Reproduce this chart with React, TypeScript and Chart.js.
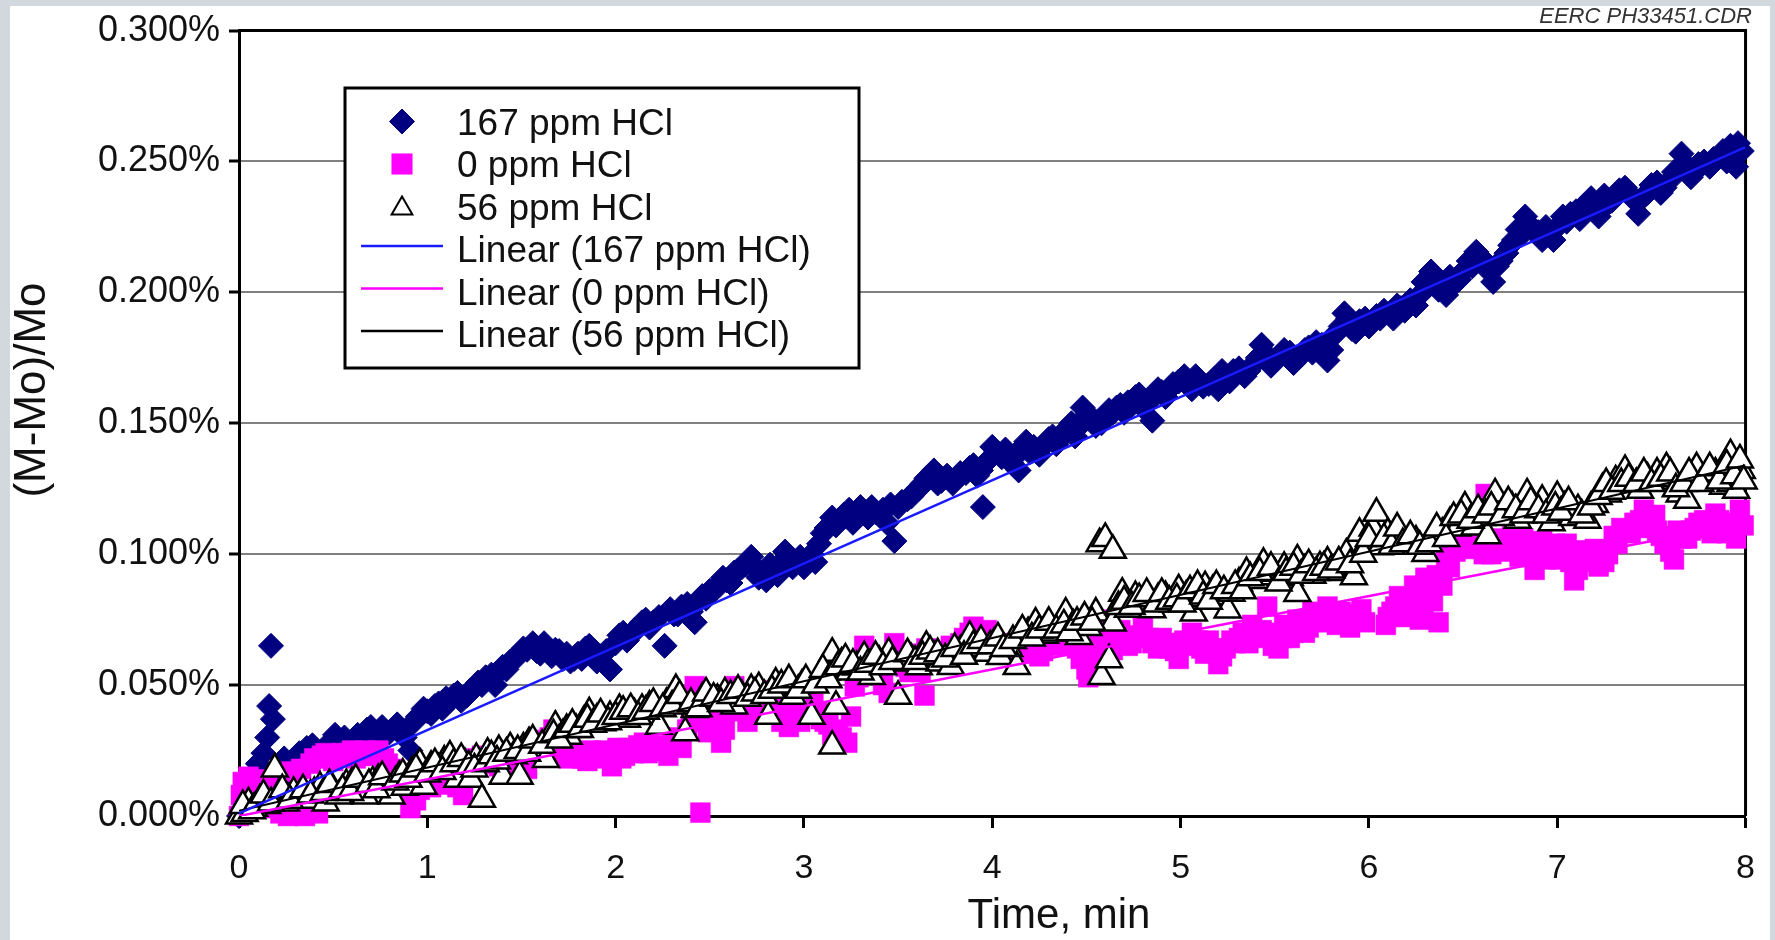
import React, { useEffect, useRef } from 'react';
import { Chart, registerables } from 'chart.js';
import { drawPoint } from 'chart.js/helpers';

Chart.register(...registerables);

const FONT = '"Liberation Sans", Arial, Helvetica, sans-serif';

// ---- text ----
const xTitle = 'Time, min';
const yTitle = '(M-Mo)/Mo';
const creditText = 'EERC PH33451.CDR';
const seriesLabels = ['167 ppm HCl', '0 ppm HCl', '56 ppm HCl'];
const trendLabels = ['Linear (167 ppm HCl)', 'Linear (0 ppm HCl)', 'Linear (56 ppm HCl)'];

// ---- ticks ----
const xTickValues = [0, 1, 2, 3, 4, 5, 6, 7, 8];
const xTickLabels = ['0', '1', '2', '3', '4', '5', '6', '7', '8'];
const yTickValues = [0, 0.05, 0.1, 0.15, 0.2, 0.25, 0.3];
const yTickLabels = ['0.000%', '0.050%', '0.100%', '0.150%', '0.200%', '0.250%', '0.300%'];

// ---- data: [time (min), (M-Mo)/Mo (%)] ----
const points167: [number, number][] = [
  [0.00, 0.000], [0.04, 0.004], [0.08, 0.010], [0.10, 0.020], [0.13, 0.024], [0.15, 0.030],
  [0.16, 0.042], [0.17, 0.065], [0.18, 0.037], [0.20, 0.018], [0.23, 0.014], [0.27, 0.020],
  [0.32, 0.024], [0.36, 0.026], [0.42, 0.022], [0.48, 0.028], [0.53, 0.029], [0.58, 0.026],
  [0.63, 0.031], [0.68, 0.033], [0.72, 0.030], [0.76, 0.034], [0.80, 0.032], [0.84, 0.035],
  [0.88, 0.030], [0.91, 0.025], [0.95, 0.038], [0.98, 0.041], [1.02, 0.039], [1.06, 0.043],
  [1.10, 0.045], [1.14, 0.046], [1.18, 0.044], [1.23, 0.048], [1.27, 0.051], [1.31, 0.053],
  [1.36, 0.050], [1.40, 0.057], [1.44, 0.059], [1.48, 0.061], [1.53, 0.0635], [1.56, 0.066],
  [1.60, 0.062], [1.64, 0.064], [1.68, 0.0635], [1.72, 0.060], [1.76, 0.059], [1.80, 0.062],
  [1.84, 0.064], [1.88, 0.062], [1.92, 0.061], [1.97, 0.056], [2.02, 0.069], [2.06, 0.067],
  [2.10, 0.071], [2.14, 0.074], [2.18, 0.072], [2.23, 0.076], [2.26, 0.065], [2.29, 0.079],
  [2.33, 0.077], [2.38, 0.081], [2.42, 0.074], [2.46, 0.084], [2.50, 0.086], [2.55, 0.088],
  [2.59, 0.090], [2.63, 0.093], [2.67, 0.095], [2.72, 0.099], [2.76, 0.091], [2.80, 0.090],
  [2.84, 0.094], [2.88, 0.097], [2.92, 0.099], [2.96, 0.097], [3.00, 0.095], [3.04, 0.100],
  [3.06, 0.097], [3.10, 0.108], [3.15, 0.114], [3.19, 0.113], [3.24, 0.117], [3.28, 0.114],
  [3.32, 0.116], [3.36, 0.118], [3.40, 0.115], [3.44, 0.112], [3.48, 0.105], [3.52, 0.120],
  [3.57, 0.122], [3.61, 0.125], [3.65, 0.129], [3.69, 0.132], [3.73, 0.128], [3.79, 0.127],
  [3.83, 0.131], [3.88, 0.133], [3.92, 0.130], [3.95, 0.118], [3.98, 0.136], [4.00, 0.141],
  [4.05, 0.137], [4.10, 0.135], [4.14, 0.132], [4.18, 0.143], [4.22, 0.141], [4.25, 0.138],
  [4.30, 0.144], [4.34, 0.142], [4.37, 0.146], [4.42, 0.150], [4.45, 0.148], [4.48, 0.156],
  [4.53, 0.152], [4.58, 0.150], [4.62, 0.155], [4.64, 0.154], [4.68, 0.157], [4.72, 0.158],
  [4.76, 0.160], [4.80, 0.156], [4.85, 0.151], [4.88, 0.163], [4.92, 0.160], [4.96, 0.165],
  [5.02, 0.168], [5.06, 0.163], [5.10, 0.166], [5.15, 0.165], [5.20, 0.163], [5.24, 0.167],
  [5.28, 0.170], [5.34, 0.168], [5.38, 0.172], [5.43, 0.180], [5.46, 0.176], [5.50, 0.174],
  [5.55, 0.178], [5.60, 0.173], [5.64, 0.176], [5.68, 0.179], [5.72, 0.181], [5.78, 0.174],
  [5.82, 0.184], [5.87, 0.192], [5.91, 0.186], [5.95, 0.189], [6.00, 0.187], [6.04, 0.191],
  [6.08, 0.193], [6.13, 0.190], [6.17, 0.194], [6.22, 0.197], [6.25, 0.195], [6.29, 0.204],
  [6.33, 0.208], [6.37, 0.201], [6.41, 0.199], [6.45, 0.203], [6.50, 0.208], [6.53, 0.212],
  [6.57, 0.2155], [6.62, 0.210], [6.66, 0.204], [6.70, 0.212], [6.75, 0.218], [6.79, 0.224],
  [6.83, 0.229], [6.87, 0.224], [6.92, 0.220], [6.96, 0.222], [7.00, 0.225], [7.05, 0.227],
  [7.10, 0.231], [7.14, 0.233], [7.18, 0.236], [7.22, 0.229], [7.27, 0.234], [7.31, 0.237],
  [7.36, 0.240], [7.40, 0.236], [7.43, 0.230], [7.48, 0.238], [7.53, 0.242], [7.57, 0.240],
  [7.62, 0.246], [7.66, 0.253], [7.71, 0.244], [7.75, 0.249], [7.81, 0.248], [7.86, 0.252],
  [7.92, 0.256], [7.95, 0.248], [7.98, 0.254],
  [0.06, 0.012], [0.11, 0.016], [0.24, 0.022], [0.30, 0.018], [0.39, 0.027], [0.45, 0.025],
  [0.51, 0.031], [0.56, 0.030], [0.61, 0.028], [0.66, 0.030], [0.70, 0.034], [0.78, 0.031],
  [0.86, 0.033], [0.93, 0.036], [1.00, 0.040], [1.04, 0.042], [1.08, 0.041], [1.12, 0.044],
  [1.16, 0.047], [1.21, 0.046], [1.25, 0.049], [1.29, 0.050], [1.34, 0.054], [1.38, 0.055],
  [1.42, 0.056], [1.46, 0.060], [1.51, 0.064], [1.58, 0.063], [1.62, 0.066], [1.66, 0.061],
  [1.70, 0.063], [1.74, 0.062], [1.78, 0.060], [1.82, 0.060], [1.86, 0.065], [1.90, 0.059],
  [1.95, 0.063], [2.00, 0.066], [2.04, 0.070], [2.08, 0.069], [2.12, 0.072], [2.16, 0.075],
  [2.20, 0.074], [2.31, 0.077], [2.35, 0.080], [2.40, 0.078], [2.44, 0.082], [2.48, 0.083],
  [2.53, 0.087], [2.57, 0.091], [2.61, 0.089], [2.65, 0.094], [2.69, 0.096], [2.74, 0.095],
  [2.78, 0.093], [2.82, 0.096], [2.86, 0.092], [2.90, 0.101], [2.94, 0.095], [2.98, 0.099],
  [3.02, 0.098], [3.08, 0.104], [3.12, 0.110], [3.17, 0.111], [3.21, 0.115], [3.26, 0.112],
  [3.30, 0.118], [3.34, 0.114], [3.38, 0.116], [3.42, 0.117], [3.46, 0.119], [3.50, 0.118],
  [3.55, 0.121], [3.59, 0.124], [3.63, 0.127], [3.67, 0.130], [3.71, 0.127], [3.76, 0.130],
  [3.81, 0.129], [3.86, 0.131], [3.90, 0.134], [3.94, 0.132], [4.02, 0.139], [4.07, 0.140],
  [4.12, 0.138], [4.16, 0.140], [4.20, 0.139], [4.28, 0.142], [4.32, 0.145], [4.40, 0.147],
  [4.44, 0.145], [4.50, 0.153], [4.55, 0.149], [4.60, 0.152], [4.66, 0.156], [4.70, 0.154],
  [4.74, 0.157], [4.78, 0.161], [4.83, 0.158], [4.90, 0.162], [4.94, 0.163], [4.99, 0.166],
  [5.04, 0.165], [5.08, 0.168], [5.12, 0.164], [5.18, 0.167], [5.22, 0.170], [5.26, 0.166],
  [5.31, 0.171], [5.36, 0.170], [5.41, 0.175], [5.48, 0.172], [5.53, 0.176], [5.58, 0.177],
  [5.62, 0.175], [5.66, 0.178], [5.70, 0.177], [5.75, 0.180], [5.80, 0.178], [5.85, 0.187],
  [5.89, 0.190], [5.93, 0.185], [5.98, 0.190], [6.02, 0.189], [6.06, 0.190], [6.11, 0.192],
  [6.15, 0.195], [6.19, 0.193], [6.27, 0.199], [6.31, 0.202], [6.35, 0.205], [6.39, 0.203],
  [6.43, 0.206], [6.48, 0.205], [6.55, 0.210], [6.60, 0.213], [6.64, 0.208], [6.68, 0.210],
  [6.73, 0.215], [6.77, 0.220], [6.81, 0.222], [6.85, 0.226], [6.90, 0.223], [6.94, 0.225],
  [6.98, 0.220], [7.03, 0.229], [7.07, 0.230], [7.12, 0.228], [7.16, 0.232], [7.20, 0.233],
  [7.25, 0.237], [7.29, 0.235], [7.33, 0.239], [7.38, 0.238], [7.45, 0.236], [7.50, 0.241],
  [7.55, 0.238], [7.60, 0.243], [7.64, 0.247], [7.68, 0.249], [7.73, 0.246], [7.78, 0.250],
  [7.83, 0.251], [7.88, 0.254], [7.90, 0.250], [7.96, 0.257],
];

const points0: [number, number][] = [
  [0.00, 0.000], [0.02, 0.013], [0.04, 0.005], [0.05, 0.015], [0.07, 0.010], [0.09, 0.003],
  [0.12, 0.008], [0.15, 0.012], [0.18, 0.004], [0.22, 0.001], [0.26, 0.000], [0.28, 0.017],
  [0.31, 0.002], [0.35, 0.000], [0.38, 0.020], [0.42, 0.001], [0.44, 0.023], [0.50, 0.021],
  [0.55, 0.024], [0.58, 0.024], [0.62, 0.022], [0.67, 0.025], [0.71, 0.023], [0.74, 0.025],
  [0.79, 0.020], [0.83, 0.016], [0.88, 0.010], [0.91, 0.003], [0.94, 0.006], [0.98, 0.013],
  [1.02, 0.011], [1.05, 0.013], [1.09, 0.016], [1.13, 0.014], [1.19, 0.008], [1.22, 0.018],
  [1.26, 0.022], [1.31, 0.020], [1.36, 0.021], [1.40, 0.023], [1.45, 0.025], [1.49, 0.020],
  [1.53, 0.018], [1.58, 0.026], [1.62, 0.029], [1.67, 0.033], [1.71, 0.025], [1.75, 0.022],
  [1.80, 0.024], [1.85, 0.021], [1.89, 0.023], [1.94, 0.025], [1.98, 0.019], [2.03, 0.022],
  [2.07, 0.026], [2.10, 0.024], [2.15, 0.028], [2.19, 0.025], [2.24, 0.027], [2.28, 0.023],
  [2.33, 0.028], [2.38, 0.033], [2.42, 0.0496], [2.45, 0.0013], [2.49, 0.032], [2.53, 0.037],
  [2.56, 0.028], [2.60, 0.040], [2.63, 0.0496], [2.67, 0.044], [2.70, 0.036], [2.74, 0.041],
  [2.78, 0.048], [2.82, 0.045], [2.86, 0.040], [2.92, 0.034], [2.96, 0.038], [3.00, 0.039],
  [3.05, 0.043], [3.09, 0.037], [3.13, 0.035], [3.18, 0.033], [3.23, 0.028], [3.27, 0.0495],
  [3.30, 0.056], [3.32, 0.065], [3.36, 0.060], [3.40, 0.055], [3.45, 0.047], [3.48, 0.066],
  [3.52, 0.058], [3.56, 0.055], [3.60, 0.062], [3.64, 0.046], [3.65, 0.064], [3.70, 0.060],
  [3.76, 0.058], [3.80, 0.063], [3.85, 0.068], [3.90, 0.0723], [3.93, 0.065], [3.97, 0.071],
  [4.02, 0.066], [4.07, 0.062], [4.11, 0.064], [4.16, 0.068], [4.21, 0.063], [4.25, 0.061],
  [4.29, 0.066], [4.32, 0.065], [4.37, 0.069], [4.43, 0.067], [4.47, 0.060], [4.50, 0.056],
  [4.51, 0.053], [4.55, 0.064], [4.59, 0.070], [4.62, 0.075], [4.64, 0.0634], [4.68, 0.071],
  [4.72, 0.065], [4.76, 0.069], [4.80, 0.072], [4.85, 0.066], [4.90, 0.068], [4.94, 0.064],
  [4.99, 0.060], [5.02, 0.067], [5.06, 0.070], [5.11, 0.064], [5.15, 0.067], [5.20, 0.058],
  [5.24, 0.064], [5.29, 0.066], [5.33, 0.070], [5.38, 0.073], [5.43, 0.071], [5.46, 0.080],
  [5.49, 0.065], [5.52, 0.064], [5.55, 0.073], [5.58, 0.068], [5.62, 0.075], [5.66, 0.070],
  [5.70, 0.078], [5.74, 0.074], [5.78, 0.080], [5.83, 0.073], [5.87, 0.076], [5.92, 0.075],
  [5.96, 0.079], [6.09, 0.073], [6.12, 0.078], [6.16, 0.084], [6.20, 0.076], [6.24, 0.088],
  [6.27, 0.075], [6.30, 0.091], [6.34, 0.082], [6.37, 0.074], [6.41, 0.097], [6.44, 0.104],
  [6.47, 0.113], [6.51, 0.109], [6.55, 0.104], [6.59, 0.108], [6.62, 0.123], [6.65, 0.100],
  [6.70, 0.103], [6.76, 0.108], [6.80, 0.099], [6.84, 0.103], [6.88, 0.094], [6.92, 0.105],
  [6.96, 0.101], [7.01, 0.098], [7.05, 0.104], [7.09, 0.090], [7.13, 0.1015], [7.18, 0.097],
  [7.22, 0.0953], [7.27, 0.100], [7.32, 0.104], [7.36, 0.109], [7.41, 0.112], [7.46, 0.117],
  [7.50, 0.113], [7.53, 0.109], [7.57, 0.104], [7.62, 0.098], [7.66, 0.106], [7.71, 0.109],
  [7.75, 0.112], [7.80, 0.110], [7.84, 0.1155], [7.88, 0.112], [7.93, 0.110], [7.95, 0.106],
  [7.97, 0.117],
  [0.01, 0.008], [0.03, 0.002], [0.06, 0.012], [0.10, 0.014], [0.13, 0.003], [0.16, 0.010],
  [0.20, 0.006], [0.24, 0.003], [0.29, 0.001], [0.33, 0.018], [0.37, 0.003], [0.40, 0.022],
  [0.46, 0.024], [0.52, 0.023], [0.60, 0.025], [0.65, 0.023], [0.69, 0.024], [0.77, 0.022],
  [0.81, 0.018], [0.86, 0.012], [0.96, 0.010], [1.00, 0.015], [1.07, 0.012], [1.11, 0.017],
  [1.16, 0.011], [1.24, 0.020], [1.29, 0.023], [1.33, 0.022], [1.38, 0.019], [1.43, 0.022],
  [1.47, 0.024], [1.51, 0.021], [1.56, 0.023], [1.60, 0.027], [1.65, 0.030], [1.69, 0.028],
  [1.73, 0.024], [1.78, 0.023], [1.82, 0.022], [1.87, 0.025], [1.92, 0.022], [1.96, 0.024],
  [2.01, 0.026], [2.05, 0.023], [2.12, 0.027], [2.17, 0.024], [2.22, 0.026], [2.26, 0.025],
  [2.30, 0.030], [2.35, 0.026], [2.40, 0.036], [2.47, 0.038], [2.51, 0.034], [2.58, 0.033],
  [2.62, 0.044], [2.65, 0.042], [2.69, 0.045], [2.72, 0.039], [2.76, 0.044], [2.80, 0.047],
  [2.84, 0.042], [2.88, 0.036], [2.94, 0.040], [2.98, 0.036], [3.02, 0.041], [3.07, 0.040],
  [3.11, 0.036], [3.15, 0.031], [3.20, 0.030], [3.25, 0.038], [3.29, 0.053], [3.34, 0.062],
  [3.38, 0.058], [3.42, 0.050], [3.46, 0.060], [3.50, 0.062], [3.54, 0.057], [3.58, 0.060],
  [3.62, 0.055], [3.68, 0.062], [3.73, 0.061], [3.78, 0.065], [3.83, 0.066], [3.88, 0.070],
  [3.95, 0.068], [4.00, 0.063], [4.05, 0.065], [4.09, 0.066], [4.14, 0.062], [4.19, 0.066],
  [4.23, 0.065], [4.27, 0.063], [4.35, 0.067], [4.40, 0.065], [4.45, 0.064], [4.53, 0.058],
  [4.57, 0.066], [4.66, 0.070], [4.70, 0.067], [4.74, 0.066], [4.78, 0.068], [4.83, 0.068],
  [4.88, 0.064], [4.92, 0.066], [4.97, 0.063], [5.04, 0.065], [5.09, 0.067], [5.13, 0.062],
  [5.18, 0.064], [5.22, 0.061], [5.27, 0.067], [5.31, 0.068], [5.36, 0.066], [5.41, 0.068],
  [5.50, 0.070], [5.54, 0.068], [5.60, 0.070], [5.64, 0.073], [5.68, 0.072], [5.72, 0.076],
  [5.76, 0.077], [5.81, 0.075], [5.85, 0.078], [5.90, 0.072], [5.94, 0.077], [5.98, 0.074],
  [6.10, 0.076], [6.14, 0.080], [6.18, 0.082], [6.22, 0.079], [6.26, 0.085], [6.29, 0.078],
  [6.32, 0.086], [6.36, 0.092], [6.39, 0.088], [6.43, 0.095], [6.46, 0.101], [6.49, 0.106],
  [6.53, 0.102], [6.57, 0.106], [6.61, 0.100], [6.68, 0.106], [6.72, 0.101], [6.78, 0.104],
  [6.82, 0.106], [6.86, 0.099], [6.90, 0.102], [6.94, 0.098], [6.99, 0.104], [7.03, 0.101],
  [7.07, 0.097], [7.11, 0.094], [7.16, 0.100], [7.20, 0.102], [7.25, 0.097], [7.30, 0.107],
  [7.34, 0.110], [7.39, 0.108], [7.44, 0.113], [7.48, 0.110], [7.52, 0.115], [7.55, 0.107],
  [7.60, 0.101], [7.64, 0.109], [7.69, 0.106], [7.73, 0.110], [7.78, 0.113], [7.82, 0.108],
  [7.86, 0.113], [7.90, 0.108], [7.99, 0.111],
];

const points56: [number, number][] = [
  [0.00, 0.000], [0.03, 0.001], [0.05, 0.005], [0.08, 0.003], [0.11, 0.006], [0.15, 0.004],
  [0.19, 0.018], [0.21, 0.008], [0.25, 0.005], [0.29, 0.009], [0.32, 0.0076], [0.36, 0.006],
  [0.40, 0.009], [0.43, 0.011], [0.46, 0.005], [0.50, 0.010], [0.53, 0.0076], [0.57, 0.012],
  [0.60, 0.0127], [0.64, 0.010], [0.67, 0.0076], [0.71, 0.013], [0.74, 0.014], [0.78, 0.012],
  [0.81, 0.0076], [0.85, 0.015], [0.88, 0.011], [0.92, 0.017], [0.96, 0.020], [0.98, 0.0114],
  [1.02, 0.019], [1.06, 0.018], [1.09, 0.021], [1.12, 0.0229], [1.16, 0.014], [1.20, 0.020],
  [1.23, 0.014], [1.26, 0.022], [1.29, 0.0064], [1.32, 0.024], [1.35, 0.0216], [1.38, 0.025],
  [1.40, 0.0152], [1.44, 0.026], [1.46, 0.023], [1.49, 0.0152], [1.51, 0.026], [1.54, 0.028],
  [1.58, 0.025], [1.63, 0.0216], [1.65, 0.030], [1.68, 0.0343], [1.72, 0.031], [1.75, 0.0305],
  [1.79, 0.033], [1.83, 0.036], [1.86, 0.0394], [1.90, 0.037], [1.93, 0.0356], [1.97, 0.038],
  [2.02, 0.0407], [2.06, 0.037], [2.10, 0.039], [2.14, 0.0407], [2.18, 0.042], [2.23, 0.0343],
  [2.27, 0.043], [2.32, 0.0483], [2.35, 0.044], [2.37, 0.0318], [2.42, 0.0407], [2.46, 0.045],
  [2.50, 0.043], [2.54, 0.0445], [2.58, 0.047], [2.63, 0.042], [2.67, 0.046], [2.72, 0.0483],
  [2.76, 0.049], [2.81, 0.0381], [2.85, 0.0508], [2.90, 0.048], [2.94, 0.0457], [2.99, 0.050],
  [3.04, 0.0381], [3.08, 0.053], [3.12, 0.055], [3.15, 0.0622], [3.15, 0.0267], [3.17, 0.0419],
  [3.20, 0.0584], [3.24, 0.055], [3.28, 0.057], [3.32, 0.0609], [3.36, 0.0533], [3.40, 0.059],
  [3.45, 0.0622], [3.50, 0.0457], [3.53, 0.0584], [3.57, 0.060], [3.61, 0.057], [3.65, 0.0648],
  [3.69, 0.061], [3.72, 0.0584], [3.78, 0.0571], [3.83, 0.063], [3.88, 0.0686], [3.92, 0.064],
  [3.97, 0.0622], [4.01, 0.066], [4.04, 0.0609], [4.09, 0.064], [4.13, 0.0571], [4.14, 0.0686],
  [4.19, 0.070], [4.23, 0.0737], [4.28, 0.069], [4.32, 0.0699], [4.36, 0.072], [4.39, 0.0775],
  [4.43, 0.073], [4.46, 0.0686], [4.51, 0.072], [4.55, 0.0775], [4.57, 0.104], [4.58, 0.0533],
  [4.60, 0.106], [4.62, 0.0597], [4.64, 0.1015], [4.64, 0.0737], [4.69, 0.0851], [4.72, 0.079],
  [4.76, 0.0838], [4.80, 0.081], [4.85, 0.0788], [4.88, 0.083], [4.92, 0.0838], [4.96, 0.081],
  [4.99, 0.0864], [5.03, 0.084], [5.07, 0.0775], [5.10, 0.083], [5.13, 0.0876], [5.17, 0.086],
  [5.20, 0.0838], [5.25, 0.0787], [5.27, 0.0851], [5.31, 0.089], [5.35, 0.093], [5.40, 0.090],
  [5.44, 0.0965], [5.46, 0.0914], [5.50, 0.0927], [5.55, 0.095], [5.58, 0.091], [5.62, 0.0978],
  [5.62, 0.085], [5.66, 0.094], [5.70, 0.092], [5.74, 0.0952], [5.78, 0.097], [5.82, 0.093],
  [5.85, 0.0952], [5.88, 0.100], [5.92, 0.0914], [5.95, 0.108], [5.99, 0.104], [6.02, 0.110],
  [6.04, 0.1156], [6.06, 0.1028], [6.10, 0.108], [6.13, 0.104], [6.16, 0.1066], [6.20, 0.103],
  [6.25, 0.105], [6.30, 0.1003], [6.34, 0.106], [6.39, 0.108], [6.43, 0.112], [6.47, 0.110],
  [6.51, 0.118], [6.56, 0.1104], [6.60, 0.114], [6.63, 0.107], [6.67, 0.123], [6.72, 0.1155],
  [6.76, 0.118], [6.79, 0.113], [6.84, 0.123], [6.88, 0.117], [6.92, 0.1206], [6.97, 0.112],
  [7.00, 0.122], [7.04, 0.118], [7.08, 0.114], [7.11, 0.117], [7.16, 0.113], [7.20, 0.119],
  [7.24, 0.125], [7.27, 0.123], [7.31, 0.128], [7.36, 0.132], [7.40, 0.127], [7.44, 0.1244],
  [7.48, 0.129], [7.53, 0.131], [7.58, 0.133], [7.62, 0.128], [7.65, 0.123], [7.69, 0.1206],
  [7.72, 0.128], [7.74, 0.133], [7.79, 0.129], [7.84, 0.131], [7.88, 0.126], [7.92, 0.138],
  [7.92, 0.127], [7.95, 0.1244], [7.98, 0.132],
  [0.02, 0.004], [0.07, 0.002], [0.13, 0.008], [0.17, 0.005], [0.23, 0.010], [0.27, 0.006],
  [0.34, 0.010], [0.38, 0.008], [0.45, 0.009], [0.48, 0.012], [0.55, 0.010], [0.59, 0.009],
  [0.62, 0.014], [0.69, 0.012], [0.73, 0.010], [0.76, 0.015], [0.83, 0.013], [0.87, 0.016],
  [0.90, 0.014], [0.94, 0.018], [1.00, 0.016], [1.04, 0.020], [1.08, 0.017], [1.14, 0.020],
  [1.18, 0.022], [1.22, 0.019], [1.25, 0.018], [1.31, 0.020], [1.34, 0.023], [1.37, 0.021],
  [1.42, 0.024], [1.48, 0.025], [1.53, 0.024], [1.56, 0.029], [1.61, 0.027], [1.67, 0.031],
  [1.70, 0.029], [1.74, 0.033], [1.77, 0.035], [1.81, 0.033], [1.85, 0.037], [1.88, 0.035],
  [1.92, 0.039], [1.96, 0.036], [2.00, 0.038], [2.04, 0.040], [2.08, 0.041], [2.12, 0.038],
  [2.16, 0.040], [2.20, 0.043], [2.25, 0.041], [2.30, 0.042], [2.34, 0.046], [2.40, 0.043],
  [2.44, 0.041], [2.48, 0.047], [2.52, 0.045], [2.56, 0.043], [2.61, 0.046], [2.65, 0.048],
  [2.70, 0.045], [2.74, 0.047], [2.79, 0.046], [2.83, 0.048], [2.88, 0.050], [2.92, 0.052],
  [2.97, 0.048], [3.01, 0.052], [3.06, 0.050], [3.10, 0.056], [3.13, 0.052], [3.18, 0.057],
  [3.22, 0.060], [3.26, 0.058], [3.30, 0.055], [3.34, 0.058], [3.38, 0.061], [3.42, 0.057],
  [3.47, 0.059], [3.55, 0.062], [3.59, 0.059], [3.63, 0.061], [3.67, 0.063], [3.71, 0.062],
  [3.75, 0.060], [3.80, 0.064], [3.85, 0.061], [3.90, 0.065], [3.94, 0.067], [3.99, 0.065],
  [4.03, 0.068], [4.06, 0.064], [4.11, 0.067], [4.16, 0.071], [4.21, 0.068], [4.25, 0.071],
  [4.30, 0.074], [4.34, 0.071], [4.38, 0.073], [4.41, 0.070], [4.45, 0.074], [4.49, 0.076],
  [4.53, 0.074], [4.67, 0.080], [4.70, 0.082], [4.74, 0.080], [4.78, 0.083], [4.82, 0.085],
  [4.87, 0.081], [4.90, 0.085], [4.94, 0.082], [4.98, 0.083], [5.01, 0.081], [5.05, 0.086],
  [5.09, 0.088], [5.12, 0.084], [5.15, 0.082], [5.19, 0.088], [5.23, 0.086], [5.29, 0.088],
  [5.33, 0.086], [5.37, 0.091], [5.42, 0.093], [5.48, 0.095], [5.52, 0.089], [5.56, 0.093],
  [5.60, 0.095], [5.64, 0.092], [5.68, 0.096], [5.72, 0.093], [5.76, 0.095], [5.80, 0.094],
  [5.84, 0.097], [5.90, 0.096], [5.97, 0.100], [6.00, 0.106], [6.08, 0.106], [6.12, 0.103],
  [6.15, 0.110], [6.18, 0.104], [6.22, 0.107], [6.27, 0.103], [6.32, 0.104], [6.36, 0.110],
  [6.41, 0.106], [6.45, 0.114], [6.49, 0.115], [6.54, 0.113], [6.58, 0.117], [6.62, 0.115],
  [6.65, 0.118], [6.70, 0.114], [6.74, 0.120], [6.78, 0.117], [6.82, 0.115], [6.86, 0.120],
  [6.90, 0.117], [6.94, 0.115], [6.99, 0.118], [7.02, 0.116], [7.06, 0.120], [7.13, 0.115],
  [7.18, 0.118], [7.22, 0.122], [7.26, 0.127], [7.29, 0.124], [7.34, 0.127], [7.38, 0.129],
  [7.42, 0.127], [7.46, 0.131], [7.50, 0.127], [7.55, 0.129], [7.60, 0.131], [7.63, 0.125],
  [7.67, 0.127], [7.70, 0.131], [7.76, 0.127], [7.81, 0.133], [7.86, 0.128], [7.90, 0.134],
  [7.94, 0.130], [7.97, 0.136], [7.99, 0.128],
];

// linear trend lines: end points at t = 0 and t = 8
const trendTimes = [0, 8];
const trend167 = [0.001, 0.2555];
const trend0 = [0.0, 0.112];
const trend56 = [0.002, 0.134];

// ---- colours ----
const NAVY = '#000080';
const MAGENTA = '#ff00ff';
const TREND_BLUE = '#1a1aff';

const toXY = (pts: [number, number][]) => pts.map(([x, y]) => ({ x, y }));
const trendXY = (vals: number[]) => trendTimes.map((x, i) => ({ x, y: vals[i] }));

const markerStyles = [
  { pointStyle: 'rectRot', radius: 12.5, fill: NAVY, stroke: NAVY, lw: 1 },
  { pointStyle: 'rect', radius: 14, fill: MAGENTA, stroke: MAGENTA, lw: 0.5 },
  { pointStyle: 'triangle', radius: 15, fill: '#ffffff', stroke: '#000000', lw: 2.5 },
];
const trendStyles = [
  { color: TREND_BLUE, lw: 2.5 },
  { color: MAGENTA, lw: 2.5 },
  { color: '#000000', lw: 2 },
];

const decorPlugin = {
  id: 'decor',
  beforeDatasetsDraw(chart: any) {
    const { ctx, chartArea: a } = chart;
    ctx.save();
    ctx.strokeStyle = '#000';
    ctx.lineWidth = 3;
    ctx.beginPath();
    ctx.moveTo(a.left, a.top);
    ctx.lineTo(a.right, a.top);
    ctx.lineTo(a.right, a.bottom);
    ctx.stroke();
    ctx.restore();
  },
  afterDraw(chart: any) {
    const { ctx } = chart;
    ctx.save();

    // legend box
    const bx = 345, by = 88, bw = 514, bh = 280;
    ctx.fillStyle = '#ffffff';
    ctx.fillRect(bx, by, bw, bh);
    ctx.strokeStyle = '#000';
    ctx.lineWidth = 3;
    ctx.strokeRect(bx, by, bw, bh);

    const rowY0 = 121.5, rowGap = 42.5, fs = 37;
    ctx.font = `${fs}px ${FONT}`;
    ctx.textAlign = 'left';
    ctx.textBaseline = 'alphabetic';
    const labels = [...seriesLabels, ...trendLabels];
    labels.forEach((lab, i) => {
      const cy = rowY0 + rowGap * i;
      if (i < 3) {
        const m = markerStyles[i];
        ctx.fillStyle = m.fill;
        ctx.strokeStyle = m.stroke;
        ctx.lineWidth = i === 2 ? 2 : m.lw;
        const r = i === 2 ? 12 : i === 1 ? 14.5 : 12.5;
        drawPoint(ctx, { pointStyle: m.pointStyle, radius: r, rotation: 0, borderWidth: m.lw } as any, 402, cy + (i === 2 ? 2 : 0));
      } else {
        const t = trendStyles[i - 3];
        ctx.strokeStyle = t.color;
        ctx.lineWidth = 2.5;
        ctx.beginPath();
        ctx.moveTo(361, cy - 3);
        ctx.lineTo(443, cy - 3);
        ctx.stroke();
      }
      ctx.fillStyle = '#111';
      ctx.fillText(lab, 457, cy + 0.358 * fs);
    });

    // axis titles
    ctx.fillStyle = '#111';
    ctx.font = `42px ${FONT}`;
    ctx.textAlign = 'center';
    ctx.textBaseline = 'alphabetic';
    ctx.fillText(xTitle, 1059, 928);

    ctx.save();
    ctx.translate(33, 390);
    ctx.rotate(-Math.PI / 2);
    ctx.font = `44px ${FONT}`;
    ctx.textBaseline = 'middle';
    ctx.fillText(yTitle, 0, 0);
    ctx.restore();

    // credit
    ctx.font = `italic 22px ${FONT}`;
    ctx.fillStyle = '#333';
    ctx.textAlign = 'right';
    ctx.textBaseline = 'alphabetic';
    ctx.fillText(creditText, 1752, 23);

    ctx.restore();
  },
};

export default function App() {
  const canvasRef = useRef<HTMLCanvasElement | null>(null);

  useEffect(() => {
    const canvas = canvasRef.current;
    if (!canvas) return;

    const scatterSets = [points167, points0, points56].map((pts, i) => {
      const m = markerStyles[i];
      return {
        type: 'scatter' as const,
        label: seriesLabels[i],
        data: toXY(pts),
        pointStyle: m.pointStyle,
        pointRadius: m.radius,
        pointBackgroundColor: m.fill,
        pointBorderColor: m.stroke,
        pointBorderWidth: m.lw,
        showLine: false,
        clip: false as any,
        order: 5 - i,
      };
    });
    const trendSets = [trend167, trend0, trend56].map((vals, i) => ({
      type: 'line' as const,
      label: trendLabels[i],
      data: trendXY(vals),
      borderColor: trendStyles[i].color,
      borderWidth: trendStyles[i].lw,
      pointRadius: 0,
      fill: false,
      tension: 0,
      order: i,
    }));

    const chart = new Chart(canvas, {
      type: 'scatter',
      data: { datasets: [...trendSets, ...scatterSets] as any },
      options: {
        responsive: false,
        animation: false,
        devicePixelRatio: 1,
        events: [],
        layout: { padding: { left: 0, top: 30, right: 17, bottom: 0 } },
        plugins: {
          legend: { display: false },
          tooltip: { enabled: false },
          title: { display: false },
        },
        scales: {
          x: {
            type: 'linear',
            min: 0,
            max: 8,
            afterFit: (s: any) => { s.height = 124; },
            afterBuildTicks: (s: any) => { s.ticks = xTickValues.map((v) => ({ value: v })); },
            ticks: {
              font: { family: FONT, size: 34 },
              color: '#111',
              padding: 20,
              maxRotation: 0,
              autoSkip: false,
              callback: (_v: any, i: number) => xTickLabels[i],
            },
            grid: {
              drawOnChartArea: false,
              drawTicks: true,
              tickLength: 12,
              tickColor: '#000',
              tickWidth: 3,
            },
            border: { display: true, color: '#000', width: 3 },
          },
          y: {
            type: 'linear',
            min: 0,
            max: 0.3,
            afterFit: (s: any) => { s.width = 239; },
            afterBuildTicks: (s: any) => { s.ticks = yTickValues.map((v) => ({ value: v })); },
            ticks: {
              font: { family: FONT, size: 36 },
              color: '#111',
              padding: 9,
              autoSkip: false,
              callback: (_v: any, i: number) => yTickLabels[i],
            },
            grid: {
              color: '#808080',
              lineWidth: 2,
              drawTicks: true,
              tickLength: 10,
              tickColor: '#000',
              tickWidth: 3,
            },
            border: { display: true, color: '#000', width: 3 },
          },
        },
      },
      plugins: [decorPlugin],
    } as any);

    return () => chart.destroy();
  }, []);

  return (
    <div style={{ position: 'absolute', left: 0, top: 0, width: 1775, height: 940, background: '#d3d8df', overflow: 'hidden' }}>
      <div style={{ position: 'absolute', left: 10, top: 6, width: 1760, height: 934, background: '#ffffff' }} />
      <canvas ref={canvasRef} width={1775} height={940} style={{ position: 'absolute', left: 0, top: 0 }} />
    </div>
  );
}
